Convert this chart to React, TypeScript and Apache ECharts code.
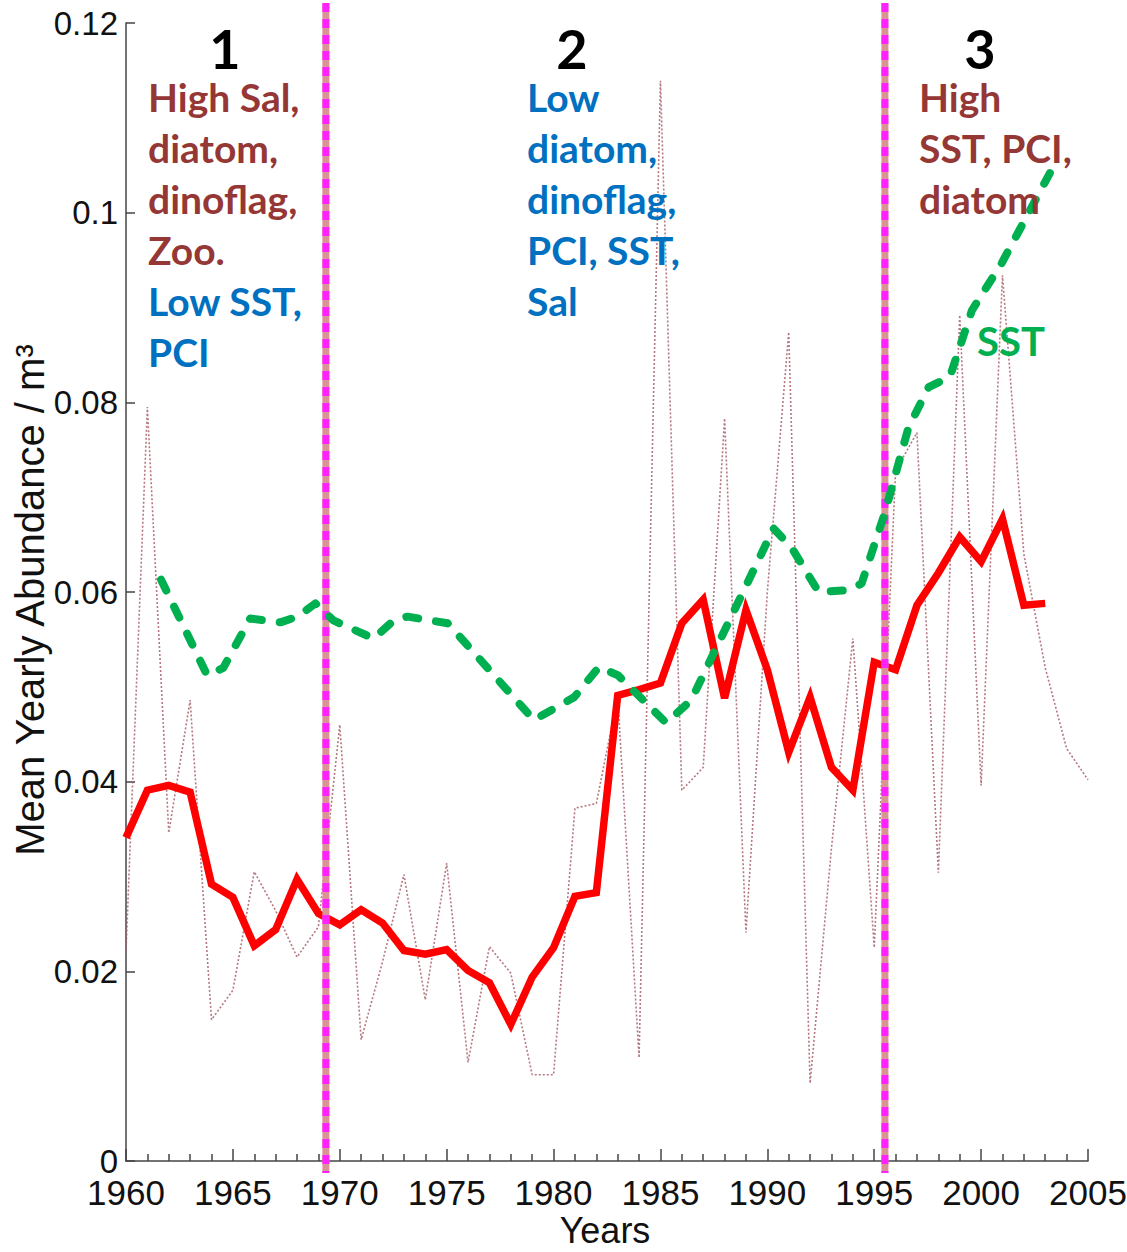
import React, { useEffect, useRef } from "react";
import * as echarts from "echarts";

const startYear = 1960;
// thick red smoothed line, 1960-2003
const smoothedAbundance = [
  0.0341, 0.0391, 0.0396, 0.0389, 0.0292, 0.0278, 0.0227, 0.0244, 0.0297, 0.0261,
  0.0249, 0.0265, 0.0251, 0.0222, 0.0218, 0.0223, 0.0201, 0.0188, 0.0144, 0.0194,
  0.0225, 0.0279, 0.0283, 0.0491, 0.0497, 0.0504, 0.0567, 0.0592, 0.0488, 0.0581,
  0.0518, 0.0431, 0.0489, 0.0415, 0.0391, 0.0526, 0.0518, 0.0586, 0.062, 0.0658,
  0.0632, 0.0677, 0.0586, 0.0588,
];
// thin dotted yearly values, 1960-2005
const rawAbundance = [
  0.0221, 0.0795, 0.0346, 0.0486, 0.0149, 0.018, 0.0305, 0.0264, 0.0215, 0.0247,
  0.046, 0.0128, 0.021, 0.0302, 0.017, 0.0314, 0.0104, 0.0226, 0.0198, 0.0091,
  0.0091, 0.0372, 0.0377, 0.049, 0.0109, 0.1139, 0.0391, 0.0415, 0.0783, 0.0241,
  0.06, 0.0874, 0.0082, 0.033, 0.0551, 0.0225, 0.0728, 0.0768, 0.0304, 0.0892,
  0.0396, 0.0934, 0.064, 0.052, 0.0435, 0.0402,
];
// SST overlay (scaled), vertices
const sstYears = [
  1961.64, 1963.8, 1964.55, 1965.81, 1967.22, 1968.02, 1968.86, 1969.7, 1971.58, 1972.52,
  1973.17, 1975.05, 1975.33, 1979.08, 1980.96, 1982.13, 1983.02, 1985.27, 1986.44, 1990.29,
  1991.13, 1992.4, 1993.8, 1994.41, 1995.49, 1996.61, 1997.55, 1998.54, 1999.57, 2000.97,
  2003.46,
];
const sstValues = [
  0.0613, 0.0512, 0.052, 0.0572, 0.0568, 0.0574, 0.0588, 0.057, 0.0551, 0.057,
  0.0574, 0.0567, 0.056, 0.0465, 0.0489, 0.0521, 0.0512, 0.0462, 0.0486, 0.0667,
  0.0647, 0.06, 0.0602, 0.0609, 0.0683, 0.0774, 0.0816, 0.0827, 0.0897, 0.0947,
  0.1052,
];
const regimeShifts = [1969.35, 1995.5];
const xTicks = { min: 1960, max: 2005, step: 5 };
const yTicks = { min: 0, max: 0.12, step: 0.02 };

const BROWN = "#953735";
const BLUE = "#0070c0";
const GREEN = "#00b050";

const regionTexts = [
  { num: "1", numX: 225, x: 148, lines: [
    ["High Sal,", BROWN], ["diatom,", BROWN], ["dinoflag,", BROWN], ["Zoo.", BROWN],
    ["Low SST,", BLUE], ["PCI", BLUE]] },
  { num: "2", numX: 572, x: 527, lines: [
    ["Low", BLUE], ["diatom,", BLUE], ["dinoflag,", BLUE], ["PCI, SST,", BLUE], ["Sal", BLUE]] },
  { num: "3", numX: 980, x: 919, lines: [
    ["High", BROWN], ["SST, PCI,", BROWN], ["diatom", BROWN]] },
];

export default function App() {
  const ref = useRef<HTMLDivElement>(null);
  useEffect(() => {
    if (!ref.current) return;
    const chart = echarts.init(ref.current, null, { renderer: "svg" });
    const graphics: any[] = [];
    regionTexts.forEach((r) => {
      graphics.push({
        type: "text", x: r.numX, y: 48, z: 50,
        style: { text: r.num, fill: "#000", font: "bold 54px Lato", lineHeight: 40, align: "center", verticalAlign: "middle" },
      });
      r.lines.forEach(([t, c], i) => {
        graphics.push({
          type: "text", x: r.x, y: 97 + 51 * i, z: 50,
          style: { text: t, fill: c, font: "bold 39px Lato", lineHeight: 40, align: "left", verticalAlign: "middle" },
        });
      });
    });
    graphics.push({
      type: "text", x: 977, y: 341, z: 50,
      style: { text: "SST", fill: GREEN, font: "bold 40px Lato", align: "left", verticalAlign: "middle" },
    });
    graphics.push({
      type: "text", x: 30, y: 600, rotation: Math.PI / 2, z: 50,
      style: { text: "Mean Yearly Abundance / m\u00b3", fill: "#111", font: "40px 'Liberation Sans'", align: "center", verticalAlign: "middle" },
    });
    graphics.push({
      type: "text", x: 605, y: 1230, z: 50,
      style: { text: "Years", fill: "#111", font: "36px 'Liberation Sans'", align: "center", verticalAlign: "middle" },
    });

    chart.setOption({
      animation: false,
      backgroundColor: "#fff",
      grid: { left: 126, right: 39, top: 23, bottom: 91, containLabel: false, outerBoundsMode: "none" },
      xAxis: {
        type: "value", min: xTicks.min, max: xTicks.max, interval: xTicks.step,
        axisLine: { show: true, lineStyle: { color: "#444", width: 1.5 } },
        axisTick: { show: true, inside: true, length: 12, lineStyle: { color: "#444", width: 1.5 } },
        minorTick: { show: true, splitNumber: 5, length: 7, lineStyle: { color: "#444", width: 1.5 } },
        splitLine: { show: false },
        axisLabel: {
          color: "#111", fontSize: 35, fontFamily: "'Liberation Sans'", margin: 14,
          formatter: (v: number) => String(v),
        },
      },
      yAxis: {
        type: "value", min: yTicks.min, max: yTicks.max, interval: yTicks.step,
        axisLine: { show: true, lineStyle: { color: "#444", width: 1.5 } },
        axisTick: { show: true, inside: true, length: 9, lineStyle: { color: "#444", width: 1.5 } },
        splitLine: { show: false },
        axisLabel: {
          color: "#111", fontSize: 33, fontFamily: "'Liberation Sans'", margin: 8,
          formatter: (v: number) => (v === 0 ? "0" : String(+v.toFixed(2))),
        },
      },
      graphic: graphics,
      series: [
        {
          type: "line", name: "raw", z: 1, showSymbol: false, silent: true,
          data: rawAbundance.map((v, i) => [startYear + i, v]),
          lineStyle: { color: "#a8606a", width: 1.6, type: [2, 2], opacity: 0.85 },
        },
        {
          type: "line", name: "smoothed", z: 2, showSymbol: false, silent: true,
          data: smoothedAbundance.map((v, i) => [startYear + i, v]),
          lineStyle: { color: "#ff0000", width: 7.5, join: "miter" },
        },
        {
          type: "custom", name: "shifts", z: 3, silent: true,
          data: regimeShifts.map((x) => [x]),
          renderItem: (params: any, api: any) => {
            const x = api.value(0);
            const top = api.coord([x, yTicks.max]);
            const bot = api.coord([x, yTicks.min]);
            return {
              type: "group",
              children: [
                { type: "line", shape: { x1: top[0], y1: top[1] - 20, x2: top[0], y2: bot[1] + 12 },
                  style: { stroke: "#d99494", lineWidth: 7 } },
                { type: "line", shape: { x1: top[0], y1: top[1] - 20, x2: top[0], y2: bot[1] + 12 },
                  style: { stroke: "#ff22ff", lineWidth: 7, lineDash: [9, 7] } },
              ],
            };
          },
        },
        {
          type: "line", name: "SST", z: 4, showSymbol: false, silent: true,
          data: sstYears.map((x, i) => [x, sstValues[i]]),
          lineStyle: { color: GREEN, width: 8, type: [12, 18], cap: "round", join: "round" },
        },
      ],
    });
    return () => chart.dispose();
  }, []);
  return (
    <div
      ref={ref}
      style={{ position: "absolute", left: 0, top: 0, width: 1127, height: 1252, background: "#fff" }}
    />
  );
}
